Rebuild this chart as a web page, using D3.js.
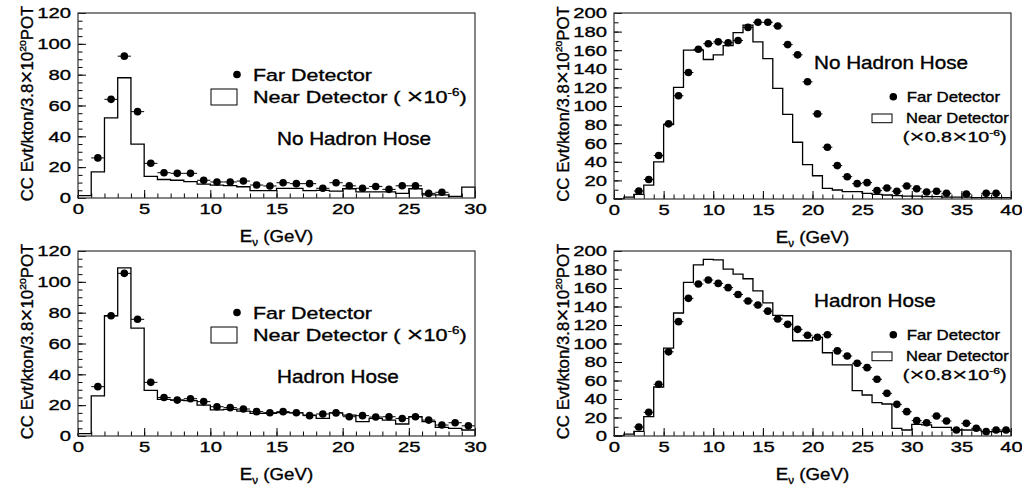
<!DOCTYPE html>
<html>
<head>
<script src="https://d3js.org/d3.v7.min.js"></script>
<style>
  body { margin: 0; background: #fff; }
  svg text { font-family: "Liberation Sans", Arial, Helvetica, sans-serif; fill: #000; stroke: #000; stroke-width: 0.35; }
</style>
</head>
<body>
<svg id="chart" width="1022" height="493"></svg>
<script>
// ---- data (1 GeV bins, far = points at bin centre, near = histogram) ----
const farNoHoseLow  = [null, 26, 64, 92, 56, 22.5, 16.4, 16, 16, 11.5, 10.4, 10.4, 11, 8.4, 7.8, 9.9, 9.3, 9.3, 6.3, 9.9, 7.9, 6.3, 7.5, 5.6, 7.9, 7.9, 3, 3.7, null, null];
const nearNoHoseLow = [1.5, 17, 52, 78, 35, 14, 12, 11.5, 10.6, 9, 8.4, 8, 7.3, 4.8, 4.8, 6.3, 6.3, 4.8, 5, 4.5, 6, 4, 4, 4, 3, 6, 2, 2, 1, 7];
const farHoseLow    = [null, 32, 78, 105.5, 75.7, 34.8, 25, 23.3, 24.2, 22.3, 19, 18.4, 17.5, 15.8, 15.1, 15.8, 15.1, 13.2, 14.3, 15, 12.5, 13.2, 12.3, 12.5, 11.4, 12.5, 10.3, 7.1, 8.6, 6.6];
const nearHoseLow   = [1.5, 26, 78, 109, 70, 29.6, 23.8, 23.3, 23, 20, 17, 17.3, 16.2, 14.7, 14.7, 15.1, 15, 13.6, 11.4, 15, 13.6, 9.3, 11.4, 10.3, 7.8, 12.5, 9.3, 5.6, 5, 3.9];

const farNoHoseHigh  = [null, null, 8.6, 21, 46.7, 80.8, 111, 136, 161, 167, 169, 168, 170.5, 184.5, 190, 190, 186, 166, 155, 126, 91.5, 55.7, 35.9, 24, 16.5, 17.6, 9, 11.8, 8.3, 14, 11, 7.5, 8.3, 6.1, null, 5.4, null, 6.1, 6.1, null];
const nearNoHoseHigh = [0.5, 2, 5, 15, 40, 80, 120, 160, 160, 150, 155, 165, 179, 187, 169, 151, 119, 91, 61, 37, 25, 11.5, 9.7, 7.9, 7.9, 6.1, 5, 4.3, 3.6, 3, 3, 2.5, 2.5, 2, 2, 2, 1.5, 1.5, 1.5, 1.5];
const farHoseHigh    = [null, null, 9.7, 25.6, 55.9, 91, 123.6, 148.8, 164.3, 168.6, 165, 160.4, 153, 146, 141.6, 135, 126.5, 120.7, 115.3, 109, 106.7, 109.5, 92, 86.5, 78.6, 73.9, 61.3, 46.1, 34.2, 26.3, 16.6, 14.4, 21.6, 16.2, 6.5, 13.7, 8.3, 4.7, 6.5, 6.5];
const nearHoseHigh   = [0.5, 2, 5, 21, 53, 95, 133, 166, 185, 191, 190.5, 180.5, 175, 170, 157, 144, 130.5, 130, 103, 103, 106.7, 90, 76.8, 76.8, 49, 44.3, 36, 34.6, 8.3, 6.5, 12.6, 12, 9.4, 9.4, 6.5, 6.5, 6.5, 4.7, 4.7, 5];

const xTicksLow  = [0, 5, 10, 15, 20, 25, 30];
const xTicksHigh = [0, 5, 10, 15, 20, 25, 30, 35, 40];
const yTicksLow  = [0, 20, 40, 60, 80, 100, 120];
const yTicksHigh = [0, 20, 40, 60, 80, 100, 120, 140, 160, 180, 200];

const titleNoHose = "No Hadron Hose";
const titleHose   = "Hadron Hose";

// ---- layout ----
const panels = [
  {far: farNoHoseLow,  near: nearNoHoseLow,  xMax: 30, yMax: 120, xTicks: xTicksLow,  yTicks: yTicksLow,  yMinor: 5,  box: {l: 78,  r: 475,  t: 13,  b: 198}, kind: 'low',  title: titleNoHose},
  {far: farNoHoseHigh, near: nearNoHoseHigh, xMax: 40, yMax: 200, xTicks: xTicksHigh, yTicks: yTicksHigh, yMinor: 10, box: {l: 614, r: 1011, t: 13,  b: 199}, kind: 'high', title: titleNoHose},
  {far: farHoseLow,    near: nearHoseLow,    xMax: 30, yMax: 120, xTicks: xTicksLow,  yTicks: yTicksLow,  yMinor: 5,  box: {l: 78,  r: 475,  t: 251, b: 436}, kind: 'low',  title: titleHose},
  {far: farHoseHigh,   near: nearHoseHigh,   xMax: 40, yMax: 200, xTicks: xTicksHigh, yTicks: yTicksHigh, yMinor: 10, box: {l: 614, r: 1011, t: 251, b: 436}, kind: 'high', title: titleHose}
];

const svg = d3.select('#chart');

// text with optional super/subscripts, stretched horizontally like the original fonts
function richText(g, segs, o) {
  let tr = `translate(${o.x},${o.y})`;
  if (o.rot) tr += ` rotate(${o.rot})`;
  tr += ` scale(${o.sx || 1},1)`;
  const t = g.append('text')
    .attr('transform', tr)
    .attr('font-size', o.size)
    .attr('text-anchor', o.anchor || 'start');
  let shift = 0;
  segs.forEach(s => {
    const [str, kind] = typeof s === 'string' ? [s, ''] : s;
    const target = kind === 'sup' ? -o.size * 0.42 : kind === 'sub' ? o.size * 0.28 : kind === 'big' ? o.size * 0.08 : 0;
    const fs = kind === 'big' ? o.size * 1.35 : kind ? o.size * 0.62 : o.size;
    t.append('tspan')
      .attr('dy', target - shift)
      .attr('font-size', fs)
      .attr('stroke-width', kind === 'big' ? 0.15 : null)
      .text(str);
    shift = target;
  });
  return t;
}

panels.forEach(p => {
  const {l, r, t, b} = p.box;
  const x = d3.scaleLinear().domain([0, p.xMax]).range([l, r]);
  const y = d3.scaleLinear().domain([0, p.yMax]).range([b, t]);
  const g = svg.append('g');

  // minor ticks
  g.append('g').attr('transform', `translate(0,${b})`)
    .call(d3.axisBottom(x).tickValues(d3.range(0, p.xMax + 1, 1)).tickSize(-4.5).tickFormat(''))
    .call(a => a.select('.domain').remove());
  g.append('g').attr('transform', `translate(${l},0)`)
    .call(d3.axisLeft(y).tickValues(d3.range(0, p.yMax + 1, p.yMinor)).tickSize(-4.5).tickFormat(''))
    .call(a => a.select('.domain').remove());

  // major ticks + labels
  const sx = 1.35;
  g.append('g').attr('transform', `translate(0,${b})`)
    .call(d3.axisBottom(x).tickValues(p.xTicks).tickSize(-8).tickPadding(5))
    .call(a => a.select('.domain').remove())
    .call(a => a.selectAll('text')
      .attr('font-size', 15).attr('font-family', '"Liberation Sans", Arial, sans-serif')
      .attr('transform', `scale(${sx},1)`));
  g.append('g').attr('transform', `translate(${l},0)`)
    .call(d3.axisLeft(y).tickValues(p.yTicks).tickSize(-8).tickPadding(7))
    .call(a => a.select('.domain').remove())
    .call(a => a.selectAll('text')
      .attr('font-size', 15).attr('font-family', '"Liberation Sans", Arial, sans-serif')
      .attr('x', -7 / sx)
      .attr('transform', `scale(${sx},1)`));
  g.selectAll('.tick line').attr('stroke', '#000').attr('stroke-width', 1);

  // near detector histogram
  const n = p.near.length;
  const pts = [[0, 0]].concat(p.near.map((v, i) => [i, v]), [[n, p.near[n - 1]], [n, 0]]);
  const step = d3.line().x(d => x(d[0])).y(d => y(d[1])).curve(d3.curveStepAfter);
  g.append('path').attr('d', step(pts))
    .attr('fill', 'none').attr('stroke', '#000').attr('stroke-width', 1.3);

  // far detector points with bin-width bars
  const far = p.far.map((v, i) => ({lo: i, hi: i + 1, v})).filter(d => d.v != null);
  g.selectAll('line.err').data(far).join('line')
    .attr('class', 'err')
    .attr('x1', d => x(d.lo)).attr('x2', d => x(d.hi))
    .attr('y1', d => y(d.v)).attr('y2', d => y(d.v))
    .attr('stroke', '#000').attr('stroke-width', 1);
  g.selectAll('circle.far').data(far).join('circle')
    .attr('class', 'far')
    .attr('cx', d => x((d.lo + d.hi) / 2)).attr('cy', d => y(d.v))
    .attr('r', 3.8).attr('fill', '#000');

  // frame
  g.append('rect').attr('x', l).attr('y', t).attr('width', r - l).attr('height', b - t)
    .attr('fill', 'none').attr('stroke', '#333').attr('stroke-width', 1.2);

  // axis titles
  richText(g, ['E', ['ν', 'sub'], ' (GeV)'], {x: (l + r) / 2, y: b + 43.5, size: 17, sx: 1.1, anchor: 'middle'});
  richText(g, ['CC Evt/kton/3.8', ['×', 'big'], '10', ['20', 'sup'], 'POT'],
    {x: l - 45, y: (t + b) / 2 - 2, size: 16, sx: 1.05, anchor: 'middle', rot: -90});

  // legend
  if (p.kind === 'low') {
    g.append('circle').attr('cx', l + 159).attr('cy', t + 61.5).attr('r', 3.8).attr('fill', '#000');
    richText(g, ['Far Detector'], {x: l + 175, y: t + 68, size: 17, sx: 1.26});
    g.append('rect').attr('x', l + 133).attr('y', t + 76).attr('width', 26).attr('height', 16)
      .attr('fill', '#fff').attr('stroke', '#000').attr('stroke-width', 1);
    richText(g, ['Near Detector ( ', ['×', 'big'], '10', ['-6', 'sup'], ')'], {x: l + 175, y: t + 90, size: 17, sx: 1.27});
    richText(g, [p.title], {x: l + 199, y: t + 131.5, size: 18, sx: 1.15});
  } else {
    richText(g, [p.title], {x: l + 200, y: t + 55.8, size: 18, sx: 1.15});
    g.append('circle').attr('cx', l + 279.3).attr('cy', t + 83.7).attr('r', 3.8).attr('fill', '#000');
    richText(g, ['Far Detector'], {x: l + 292.7, y: t + 88.7, size: 14, sx: 1.2});
    g.append('rect').attr('x', l + 258).attr('y', t + 101).attr('width', 20).attr('height', 8.7)
      .attr('fill', '#fff').attr('stroke', '#000').attr('stroke-width', 1);
    richText(g, ['Near Detector'], {x: l + 292, y: t + 110, size: 14, sx: 1.18});
    richText(g, ['(', ['×', 'big'], '0.8', ['×', 'big'], '10', ['-6', 'sup'], ')'], {x: l + 288.7, y: t + 129.3, size: 14, sx: 1.4});
  }
});
</script>
</body>
</html>
